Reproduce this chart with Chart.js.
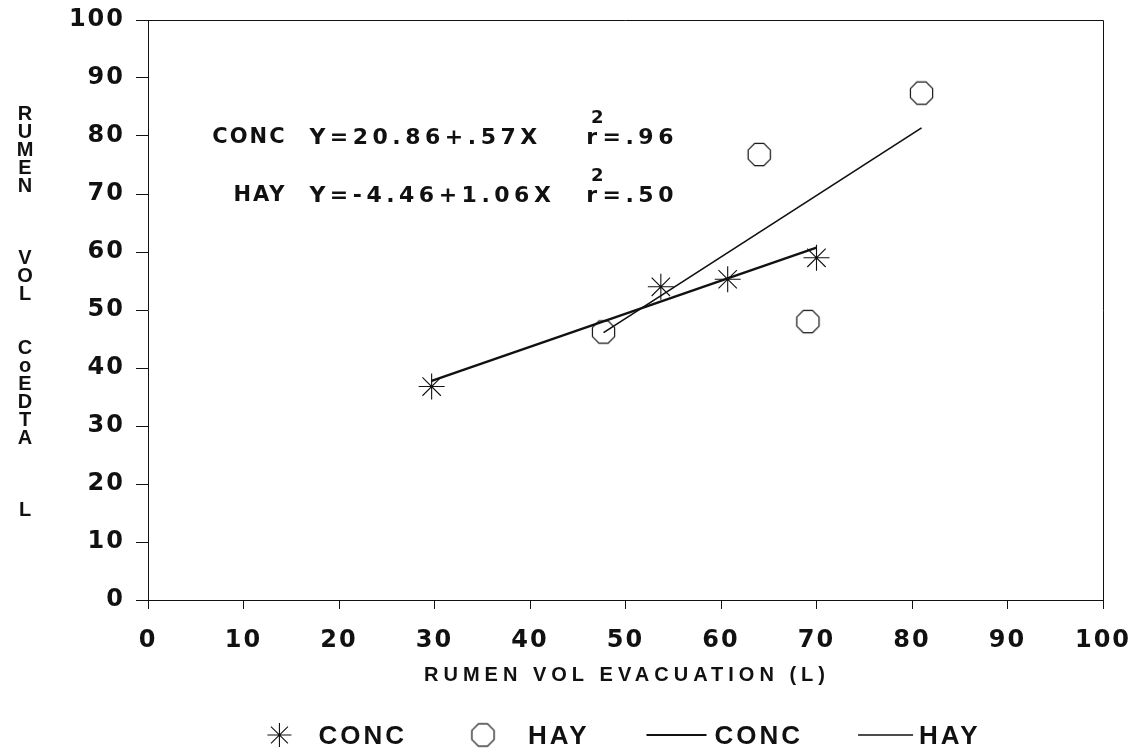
<!DOCTYPE html>
<html>
<head>
<meta charset="utf-8">
<title>Rumen volume: CoEDTA vs evacuation</title>
<script src="https://cdn.jsdelivr.net/npm/chart.js@4.4.1/dist/chart.umd.min.js"></script>
<style>
  html, body { margin: 0; padding: 0; background: #ffffff; }
  #wrap { width: 1134px; height: 755px; }
</style>
</head>
<body>
<div id="wrap"><canvas id="chart" width="1134" height="755"></canvas></div>
<script>
// Observed rumen volumes (L): evacuation (x) vs CoEDTA marker (y)
const concX = [29.7, 53.7, 60.7, 70.0];
const concY = [36.8, 54.0, 55.3, 59.0];
const hayX = [47.7, 64.0, 69.1, 81.0];
const hayY = [46.2, 76.8, 48.0, 87.4];

// Fitted regressions Y = a + bX
const concFit = { a: 20.86, b: 0.57, r2: '.96' };
const hayFit = { a: -4.46, b: 1.06, r2: '.50' };

const axisTicks = [0, 10, 20, 30, 40, 50, 60, 70, 80, 90, 100];
const yTitle = 'RUMEN   VOL  CoEDTA   L';
const xTitle = 'RUMEN VOL EVACUATION (L)';
const legendLabels = ['CONC', 'HAY', 'CONC', 'HAY'];

const SANS = "'Liberation Sans', Arial, sans-serif";
const WIDE = "'DejaVu Sans', 'Liberation Sans', sans-serif";
const TICK_SPACING = 2;

function points(xs, ys) { return xs.map((x, i) => ({ x: x, y: ys[i] })); }
function fitLine(xs, fit) {
  const lo = Math.min(...xs), hi = Math.max(...xs);
  return [{ x: lo, y: fit.a + fit.b * lo }, { x: hi, y: fit.a + fit.b * hi }];
}

// Octagonal open marker used for the HAY points
function octagon(r, lw) {
  const size = Math.ceil(2 * r + 2 * lw + 2);
  const c = document.createElement('canvas');
  c.width = size; c.height = size;
  const g = c.getContext('2d');
  g.strokeStyle = '#111'; g.lineWidth = lw;
  g.beginPath();
  for (let i = 0; i < 8; i++) {
    const a = Math.PI / 8 + i * Math.PI / 4;
    const px = size / 2 + r * Math.cos(a), py = size / 2 + r * Math.sin(a);
    if (i === 0) g.moveTo(px, py); else g.lineTo(px, py);
  }
  g.closePath(); g.stroke();
  return c;
}
const octMarker = octagon(12, 1.2);

function withSpacing(ctx, sp, fn) {
  ctx.save();
  ctx.letterSpacing = sp + 'px';
  fn();
  ctx.restore();
}

// tick labels are drawn with a little extra tracking
const spacingPlugin = {
  id: 'spacing',
  beforeUpdate(chart) { chart.ctx.letterSpacing = TICK_SPACING + 'px'; },
  beforeLayout(chart) { chart.ctx.letterSpacing = TICK_SPACING + 'px'; },
  beforeDraw(chart) { chart.ctx.letterSpacing = TICK_SPACING + 'px'; }
};

const decorPlugin = {
  id: 'decor',
  afterDraw(chart) {
    const ctx = chart.ctx;
    const ca = chart.chartArea;
    const xs = chart.scales.x, ys = chart.scales.y;

    // frame: top and right edges
    ctx.save();
    ctx.strokeStyle = '#111'; ctx.lineWidth = 1;
    ctx.beginPath();
    ctx.moveTo(ca.left, ca.top + 0.5); ctx.lineTo(ca.right + 0.5, ca.top + 0.5);
    ctx.lineTo(ca.right + 0.5, ca.bottom);
    ctx.stroke();
    ctx.restore();

    // vertical stacked y title
    withSpacing(ctx, 0, () => {
      ctx.fillStyle = '#111';
      ctx.font = 'bold 20px ' + SANS;
      ctx.textAlign = 'center'; ctx.textBaseline = 'middle';
      const top = 114, step = 18;
      for (let i = 0; i < yTitle.length; i++) {
        const ch = yTitle[i];
        if (ch !== ' ') ctx.fillText(ch, 25, top + i * step);
      }
    });

    // x title
    withSpacing(ctx, 5, () => {
      ctx.fillStyle = '#111';
      ctx.font = 'bold 20px ' + SANS;
      ctx.textAlign = 'center'; ctx.textBaseline = 'middle';
      ctx.fillText(xTitle, 627, 675);
    });

    // regression equations
    const rows = [
      { name: 'CONC', fit: concFit, y: 80 },
      { name: 'HAY', fit: hayFit, y: 70 }
    ];
    ctx.save();
    ctx.fillStyle = '#111';
    ctx.textBaseline = 'middle';
    rows.forEach(r => {
      const py = ys.getPixelForValue(r.y) + 2;
      ctx.letterSpacing = '2px';
      ctx.font = 'bold 21px ' + WIDE;
      ctx.textAlign = 'right';
      ctx.fillText(r.name, xs.getPixelForValue(14.3) + 2, py);
      ctx.letterSpacing = '4.5px';
      ctx.font = 'bold 22px ' + WIDE;
      ctx.textAlign = 'left';
      const a = r.fit.a < 0 ? '-' + Math.abs(r.fit.a).toFixed(2) : r.fit.a.toFixed(2);
      const b = r.fit.b.toFixed(2).replace(/^0/, '');
      ctx.fillText('Y=' + a + '+' + b + 'X', xs.getPixelForValue(16.9), py);
      ctx.fillText('r', xs.getPixelForValue(45.9), py);
      ctx.fillText('=' + r.fit.r2, xs.getPixelForValue(47.6), py);
      ctx.font = 'bold 18px ' + WIDE;
      ctx.fillText('2', xs.getPixelForValue(46.4), py - 20);
    });
    ctx.restore();

    // legend row
    const ds = chart.data.datasets;
    withSpacing(ctx, 3, () => {
      ctx.font = 'bold 26px ' + SANS;
      const items = [
        { kind: 'star', w: 26, gap: 26 },
        { kind: 'oct', w: 26, gap: 32 },
        { kind: 'line', w: 60, gap: 8 },
        { kind: 'line', w: 55, gap: 6 }
      ];
      const itemGaps = [66, 60, 58];
      let total = 0;
      items.forEach((it, i) => {
        it.tw = ctx.measureText(legendLabels[i]).width - 3;
        total += it.w + it.gap + it.tw + (i < items.length - 1 ? itemGaps[i] : 0);
      });
      let x = 622 - total / 2;
      const ly = 735;
      items.forEach((it, i) => {
        const d = ds[i];
        ctx.save();
        ctx.strokeStyle = '#111';
        if (it.kind === 'star') {
          ctx.lineWidth = 1.1;
          const cx = x + it.w / 2, r = 12;
          ctx.beginPath();
          for (let k = 0; k < 4; k++) {
            const a = k * Math.PI / 4;
            ctx.moveTo(cx - r * Math.cos(a), ly - r * Math.sin(a));
            ctx.lineTo(cx + r * Math.cos(a), ly + r * Math.sin(a));
          }
          ctx.stroke();
        } else if (it.kind === 'oct') {
          ctx.drawImage(octMarker, x + it.w / 2 - octMarker.width / 2, ly - octMarker.height / 2);
        } else {
          ctx.lineWidth = d.borderWidth > 2 ? 2 : 1.6;
          ctx.beginPath();
          ctx.moveTo(x, ly); ctx.lineTo(x + it.w, ly);
          ctx.stroke();
        }
        ctx.restore();
        x += it.w + it.gap;
        ctx.fillStyle = '#111';
        ctx.textAlign = 'left'; ctx.textBaseline = 'middle';
        ctx.fillText(legendLabels[i], x, ly + 2);
        x += it.tw + (i < items.length - 1 ? itemGaps[i] : 0);
      });
    });
  }
};

const tickFont = { family: WIDE, size: 24, weight: 'bold' };

new Chart(document.getElementById('chart'), {
  type: 'scatter',
  data: {
    datasets: [
      {
        label: 'CONC',
        data: points(concX, concY),
        pointStyle: 'star',
        pointRadius: 13,
        pointBorderWidth: 1.1,
        borderColor: '#111',
        backgroundColor: '#111',
        showLine: false
      },
      {
        label: 'HAY',
        data: points(hayX, hayY),
        pointStyle: octMarker,
        pointRadius: 12,
        borderColor: '#111',
        backgroundColor: '#111',
        showLine: false
      },
      {
        label: 'CONC',
        data: fitLine(concX, concFit),
        showLine: true,
        pointRadius: 0,
        borderColor: '#111',
        borderWidth: 2.4
      },
      {
        label: 'HAY',
        data: fitLine(hayX, hayFit),
        showLine: true,
        pointRadius: 0,
        borderColor: '#111',
        borderWidth: 1.7
      }
    ]
  },
  options: {
    responsive: false,
    animation: false,
    events: [],
    layout: { padding: { top: 20, right: 31, bottom: 0, left: 0 } },
    plugins: {
      legend: { display: false },
      tooltip: { enabled: false },
      title: { display: false }
    },
    scales: {
      x: {
        type: 'linear',
        min: 0, max: 100,
        afterFit(scale) { scale.height = 155; scale.paddingRight = 0; scale.paddingLeft = 0; },
        afterBuildTicks(scale) { scale.ticks = axisTicks.map(v => ({ value: v })); },
        border: { display: true, color: '#111', width: 1 },
        grid: { drawOnChartArea: false, drawTicks: true, tickLength: 9, color: '#111', tickColor: '#111' },
        ticks: { color: '#111', font: tickFont, padding: 17, maxRotation: 0, autoSkip: false }
      },
      y: {
        type: 'linear',
        min: 0, max: 100,
        afterFit(scale) { scale.width = 148; scale.paddingTop = 0; scale.paddingBottom = 0; },
        afterBuildTicks(scale) { scale.ticks = axisTicks.map(v => ({ value: v })); },
        border: { display: true, color: '#111', width: 1 },
        grid: { drawOnChartArea: false, drawTicks: true, tickLength: 12, color: '#111', tickColor: '#111' },
        ticks: { color: '#111', font: tickFont, padding: 11, autoSkip: false }
      }
    }
  },
  plugins: [spacingPlugin, decorPlugin]
});
</script>
</body>
</html>
